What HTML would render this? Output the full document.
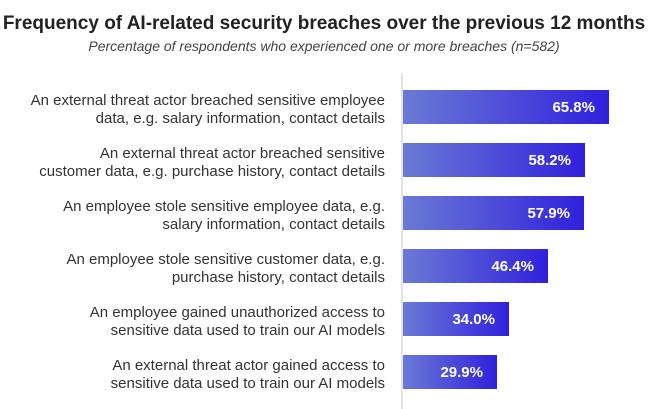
<!DOCTYPE html>
<html><head><style>
body{margin:0;width:648px;height:409px;background:#fff;font-family:"Liberation Sans",sans-serif;position:relative;overflow:hidden}
.t{position:absolute;top:13px;left:0;width:648px;text-align:center;font-weight:bold;font-size:19px;color:#222;white-space:nowrap}
.s{position:absolute;top:38px;left:0;width:648px;text-align:center;font-style:italic;font-size:14px;color:#444}
.ax{position:absolute;left:401px;top:73px;width:2px;height:336px;background:#e3e3e3}
.b{position:absolute;left:403px;height:34px;background:linear-gradient(90deg,#6a7ad5,#3020dc)}
.v{position:absolute;right:14px;top:9px;color:#fff;font-weight:bold;font-size:15px}
.l{position:absolute;right:263px;width:400px;text-align:right;font-size:15px;line-height:18px;color:#333;white-space:nowrap;margin-top:2px}
</style></head><body>
<div class="t">Frequency of AI-related security breaches over the previous 12 months</div>
<div class="s">Percentage of respondents who experienced one or more breaches (n=582)</div>
<div class="ax"></div>
<div class="l" style="top:90px">An external threat actor breached sensitive employee<br>data, e.g. salary information, contact details</div>
<div class="b" style="top:90px;width:206px"><span class="v">65.8%</span></div>
<div class="l" style="top:143px">An external threat actor breached sensitive<br>customer data, e.g. purchase history, contact details</div>
<div class="b" style="top:143px;width:182px"><span class="v">58.2%</span></div>
<div class="l" style="top:196px">An employee stole sensitive employee data, e.g.<br>salary information, contact details</div>
<div class="b" style="top:196px;width:181px"><span class="v">57.9%</span></div>
<div class="l" style="top:249px">An employee stole sensitive customer data, e.g.<br>purchase history, contact details</div>
<div class="b" style="top:249px;width:145px"><span class="v">46.4%</span></div>
<div class="l" style="top:302px">An employee gained unauthorized access to<br>sensitive data used to train our AI models</div>
<div class="b" style="top:302px;width:106px"><span class="v">34.0%</span></div>
<div class="l" style="top:355px">An external threat actor gained access to<br>sensitive data used to train our AI models</div>
<div class="b" style="top:355px;width:94px"><span class="v">29.9%</span></div>
</body></html>
